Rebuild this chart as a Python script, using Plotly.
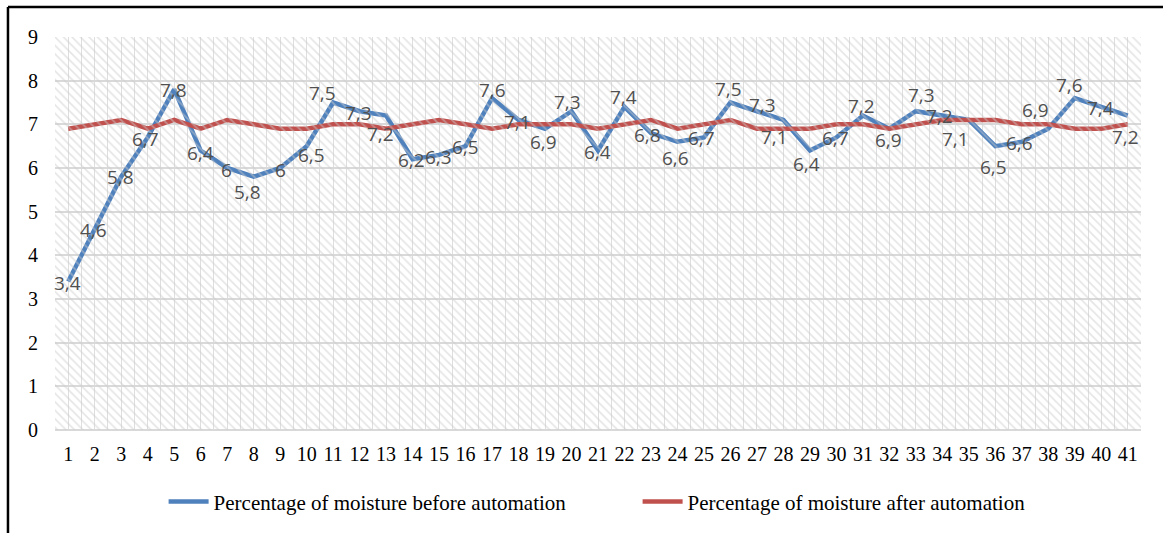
import plotly.graph_objects as go

# Sample number along the x axis
samples = list(range(1, 42))

# Moisture (%) readings
moisture_before = [3.4, 4.6, 5.8, 6.7, 7.8, 6.4, 6.0, 5.8, 6.0, 6.5,
                   7.5, 7.3, 7.2, 6.2, 6.3, 6.5, 7.6, 7.1, 6.9, 7.3,
                   6.4, 7.4, 6.8, 6.6, 6.7, 7.5, 7.3, 7.1, 6.4, 6.7,
                   7.2, 6.9, 7.3, 7.2, 7.1, 6.5, 6.6, 6.9, 7.6, 7.4, 7.2]
moisture_after = [6.9, 7.0, 7.1, 6.9, 7.1, 6.9, 7.1, 7.0, 6.9, 6.9,
                  7.0, 7.0, 6.9, 7.0, 7.1, 7.0, 6.9, 7.0, 7.0, 7.0,
                  6.9, 7.0, 7.1, 6.9, 7.0, 7.1, 6.9, 6.9, 6.9, 7.0,
                  7.0, 6.9, 7.0, 7.1, 7.1, 7.1, 7.0, 7.0, 6.9, 6.9, 7.0]

y_ticks = list(range(0, 10))

# Pixel nudges (dx, dy; dy downward) of each value label from its point
label_nudge = [(-1, 1), (-1, 1), (-1, 0), (-2, 2), (-1, 1), (0, 2), (-1, 2), (-6, 15),
               (0, 2), (5, 9), (-11, -10), (-1, 2), (-6, 18), (-1, 1), (-1, 2), (0, 1),
               (0, -8), (-1, 2), (-2, 13), (-4, -9), (-1, 1), (-1, -10), (-3, 2), (-2, 16),
               (-2, 1), (-2, -14), (6, -6), (-9, 17), (-3, 13), (-1, 1), (-1, -10), (-1, 11),
               (6, -16), (-3, 0), (-13, 19), (-2, 21), (-2, 1), (-13, -19), (-5, -13),
               (-1, 1), (-2, 21)]

BLUE = "#4f81bd"
RED = "#c0504d"
GRID = "#d9d9d9"
SERIF = "Liberation Serif, Times New Roman, serif"

fig = go.Figure()

# Hatched background of the plot area (on an overlay axis spanning 0..1)
fig.add_trace(go.Scatter(
    x=[0, 1, 1, 0, 0], y=[0, 0, 1, 1, 0],
    xaxis="x2", yaxis="y2", mode="none", fill="toself",
    fillcolor="rgba(0,0,0,0)",
    fillpattern=dict(shape="\\", fgcolor="#cccccc", bgcolor="rgba(255,255,255,0)",
                     size=6, solidity=0.28),
    showlegend=False, hoverinfo="skip",
))

fig.add_trace(go.Scatter(
    x=samples, y=moisture_before, mode="lines",
    name="Percentage of moisture before automation",
    line=dict(color=BLUE, width=4.5),
))
fig.add_trace(go.Scatter(
    x=samples, y=moisture_after, mode="lines",
    name="Percentage of moisture after automation",
    line=dict(color=RED, width=4.5),
))

# Value labels for the "before" series
for x, v, (dx, dy) in zip(samples, moisture_before, label_nudge):
    txt = (f"{v:g}").replace(".", ",")
    fig.add_annotation(x=x, y=v, text=txt, showarrow=False,
                       xshift=dx, yshift=-dy,
                       font=dict(family="Open Sans, DejaVu Sans, sans-serif",
                                 size=19, color="#505050"))

# Outer frame (top and left edges)
fig.add_shape(type="line", xref="paper", yref="paper",
              x0=-0.0433, x1=1.03, y0=1.0763, y1=1.0763,
              line=dict(color="black", width=2.5))
fig.add_shape(type="line", xref="paper", yref="paper",
              x0=-0.0433, x1=-0.0433, y0=1.0763, y1=-0.27,
              line=dict(color="black", width=2.5))

fig.update_layout(
    width=1163, height=533,
    margin=dict(l=55, r=22, t=37, b=103, autoexpand=False),
    paper_bgcolor="white", plot_bgcolor="white",
    xaxis=dict(
        range=[0.5, 41.5], tickmode="array", tickvals=samples,
        ticktext=[str(s) for s in samples],
        showgrid=True, gridcolor="#dedede", gridwidth=1,
        minor=dict(showgrid=True, dtick=0.5, tick0=0.5, gridcolor="#dedede", gridwidth=1),
        showline=False, zeroline=False, ticks="",
        tickfont=dict(family=SERIF, size=20, color="black"),
        ticklabelstandoff=10,
    ),
    yaxis=dict(
        range=[0, 9], tickvals=y_ticks,
        showgrid=True, gridcolor=GRID, gridwidth=2,
        zeroline=True, zerolinecolor=GRID, zerolinewidth=2,
        showline=False, ticks="",
        tickfont=dict(family=SERIF, size=20, color="black"),
        ticklabelstandoff=16,
    ),
    xaxis2=dict(overlaying="x", range=[0, 1], visible=False, fixedrange=True),
    yaxis2=dict(overlaying="y", range=[0, 1], visible=False, fixedrange=True),
    legend=dict(
        orientation="h", x=0.1, xanchor="left", y=-0.183, yanchor="middle",
        font=dict(family=SERIF, size=21, color="black"),
        entrywidth=419, itemwidth=40,
    ),
    showlegend=True,
)

fig.write_html("out.html")
